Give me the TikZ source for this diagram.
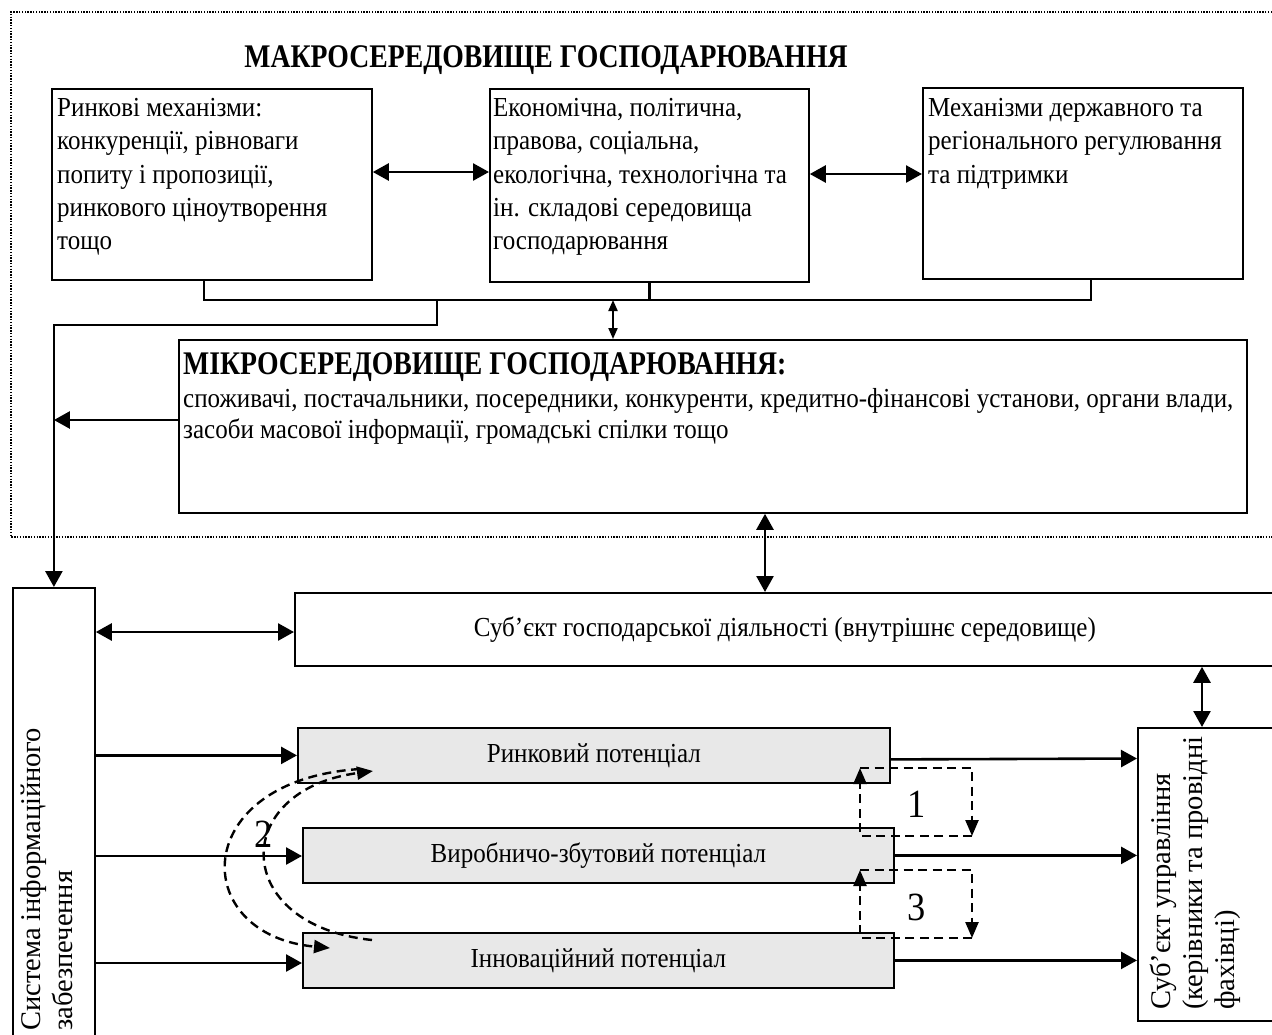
\documentclass[tikz,border=0pt]{standalone}
\usepackage{fontspec}
\setmainfont{Liberation Serif}[FakeStretch=0.91]
\newfontfamily\headfam{Liberation Serif}[FakeStretch=0.84]
\newfontfamily\rotfam{Liberation Serif}
\usetikzlibrary{arrows.meta,calc}
\definecolor{potgray}{RGB}{232,232,232}
\newcommand\bodyfont{\fontsize{27.5}{33.3}\selectfont}
\newcommand\microfont{\fontsize{27.5}{31.5}\selectfont}
\newcommand\rotfont{\rotfam\fontsize{28.5}{32}\selectfont}
\newcommand\headfont{\headfam\fontsize{33}{38}\selectfont\bfseries}
\newcommand\numfont{\fontsize{40}{44}\selectfont}

\begin{document}
\begin{tikzpicture}[x=1pt,y=-1pt,
  box/.style={draw, line width=1.8pt, inner sep=0pt, anchor=north west},
  pot/.style={box, fill=potgray, font=\bodyfont},
  txt/.style={anchor=north west, inner sep=0pt, align=left, font=\bodyfont},
  rtxt/.style={txt, rotate=90, font=\rotfont},
  ln/.style={line width=2.6pt, >={Triangle[length=16pt,width=17pt]}},
  lnsm/.style={line width=2pt, >={Triangle[length=11pt,width=9pt]}},
  dsh/.style={line width=2.4pt, dash pattern=on 9pt off 5.5pt, >={Triangle[length=16pt,width=13pt]}},
  dotframe/.style={line width=1.8pt, dash pattern=on 1.4pt off 1.4pt},
]
\useasboundingbox (0,0) rectangle (1272,1034);

% outer frame of the macro environment
\draw[dotframe] (1272,12) -| (11,537) -- (1272,537);

% macro environment
\node[anchor=base, inner sep=0pt, font=\headfont] (title) at (546,67) {МАКРОСЕРЕДОВИЩЕ ГОСПОДАРЮВАННЯ};

\node[box, minimum width=320, minimum height=191] (b1) at (51,88) {};
\node[txt] (b1t) at (57,98) {Ринкові механізми:\\конкуренції, рівноваги\\попиту і пропозиції,\\ринкового ціноутворення\\тощо};

\node[box, minimum width=319, minimum height=193] (b2) at (489,88) {};
\node[txt] (b2t) at (493,98) {Економічна, політична,\\правова, соціальна,\\екологічна, технологічна та\\ін. складові середовища\\господарювання};

\node[box, minimum width=320, minimum height=191] (b3) at (922,87) {};
\node[txt] (b3t) at (928,98) {Механізми державного та\\регіонального регулювання\\та підтримки};

% micro environment
\node[box, minimum width=1068, minimum height=173] (micro) at (178,339) {};
\node[anchor=base west, inner sep=0pt, font=\headfont] (microhead) at (183,374) {МІКРОСЕРЕДОВИЩЕ ГОСПОДАРЮВАННЯ:};
\node[txt, font=\microfont] (microbody) at (183,388) {споживачі, постачальники, посередники, конкуренти, кредитно-фінансові установи, органи влади,\\засоби масової інформації, громадські спілки тощо};

% enterprise level
\node[box, minimum width=980, minimum height=73, font=\bodyfont] (subj) at (294,592) {Суб’єкт господарської діяльності (внутрішнє середовище)};
\node[box, minimum width=82, minimum height=470] (info) at (12,587) {};
\node[rtxt] (infot) at (21,1031) {Система інформаційного\\забезпечення};

\node[pot, minimum width=592, minimum height=55] (pr) at (297,727) {Ринковий потенціал};
\node[pot, minimum width=591, minimum height=55] (pv) at (302,827) {Виробничо-збутовий потенціал};
\node[pot, minimum width=591, minimum height=55] (pi) at (302,932) {Інноваційний потенціал};

\node[box, minimum width=150, minimum height=293] (upr) at (1137,727) {};
\node[rtxt] (uprt) at (1150,1010) {Суб’єкт управління\\(керівники та провідні\\фахівці)};

% links inside the macro environment
\draw[ln,<->] (b1.east |- 0,172) -- (b2.west |- 0,172);
\draw[ln,<->] (b2.east |- 0,174) -- (b3.west |- 0,174);

\coordinate (busy) at (0,300);
\draw[ln] ([xshift=-8pt]b1.south) -- ([xshift=-8pt]b1.south |- busy) -- ([xshift=8pt]b3.south |- busy) -- ([xshift=8pt]b3.south);
\draw[ln] (b2.south) -- (b2.south |- busy);

\coordinate (tap) at (437,300);
\draw[ln,->] (tap) -- (437,325) -| (info.north);
\coordinate (tapm) at (613,300);
\draw[lnsm,<->] (tapm) -- (micro.north -| tapm);
\draw[ln,->] (micro.west |- 0,420) -- (info.north |- 0,420);

% links to the enterprise
\coordinate (mx) at (765,0);
\draw[ln,<->] (micro.south -| mx) -- (subj.north -| mx);
\draw[ln,<->] (info.east |- 0,632) -- (subj.west |- 0,632);
\coordinate (ux) at (1202,0);
\draw[ln,<->] (subj.south -| ux) -- (upr.north -| ux);

\draw[ln,->] (info.east |- pr.west) -- (pr.west);
\draw[ln,->] (info.east |- 0,856) -- (pv.west |- 0,856);
\draw[ln,->] (info.east |- 0,963) -- (pi.west |- 0,963);

\draw[ln,->] ([yshift=-4pt]pr.east) -- (upr.west |- 0,758.5);
\draw[ln,->] (pv.east) -- (upr.west |- pv.east);
\draw[ln,->] (pi.east) -- (upr.west |- pi.east);

% feedback loops between the potentials
\coordinate (l1a) at (860,836);
\coordinate (l1b) at (860,768);
\coordinate (l1c) at (972,836);
\draw[dsh,->] (l1c) -- (l1a) -- (l1b);
\draw[dsh,->] (l1b) -| (l1c);
\node[font=\numfont, inner sep=0pt] (n1) at (917,804) {1};

\coordinate (l3a) at (860,938);
\coordinate (l3b) at (860,870);
\coordinate (l3c) at (972,938);
\draw[dsh,->] (l3c) -- (l3a) -- (l3b);
\draw[dsh,->] (l3b) -| (l3c);
\node[font=\numfont, inner sep=0pt] (n3) at (917,907) {3};

\coordinate (o1) at (360,769);
\coordinate (o2) at (330,948);
\coordinate (i1) at (372,940);
\coordinate (i2) at (373,771);
\draw[dsh,->] (o1) .. controls (188,780) and (188,935) .. (o2);
\draw[dsh,->] (i1) .. controls (230,925) and (230,790) .. (i2);
\node[font=\numfont, inner sep=0pt] (n2) at (264,834) {2};
\end{tikzpicture}
\end{document}
